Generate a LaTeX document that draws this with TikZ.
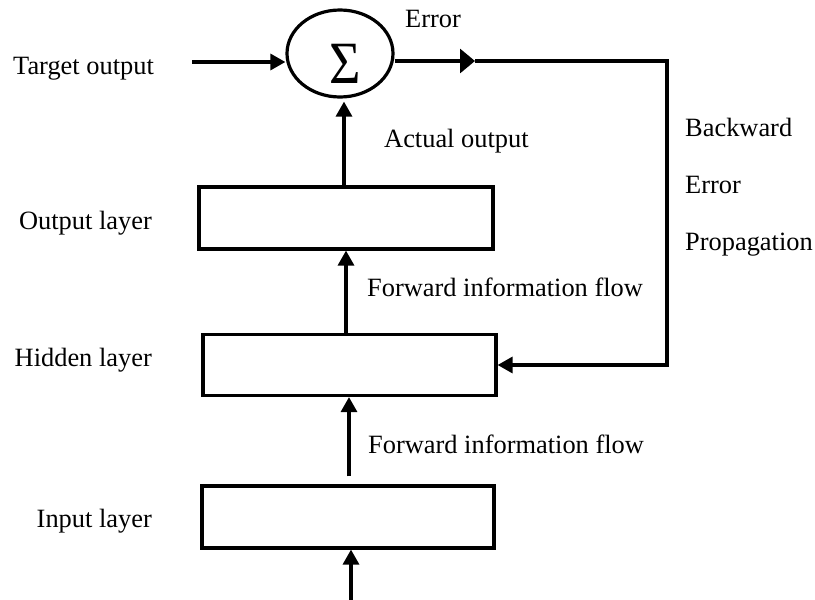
\documentclass[tikz,border=0pt]{standalone}
\usepackage{fontspec}
\setmainfont{Liberation Serif}
\usetikzlibrary{arrows.meta,shapes.geometric,calc}
\tikzset{
  lw/.style={line width=3.2pt},
  arr/.style={lw,-{Triangle[length=15pt,width=16pt]}},
  arrbig/.style={lw,-{Triangle[length=15pt,width=24pt]}},
  layerbox/.style={draw,lw,rectangle,inner sep=0pt},
  lbl/.style={inner sep=0pt,font=\fontsize{26.4}{30}\selectfont}
}
\begin{document}
\begin{tikzpicture}[x=1pt,y=-1pt]
\useasboundingbox (0,0) rectangle (815,600);
% summing junction
\node[draw,lw,ellipse,minimum width=106pt,minimum height=87pt,inner sep=0pt] (sum) at (340,53.5) {};
\node[inner sep=0pt,anchor=base] (sigma) at (345,83) {\fontsize{60}{60}\selectfont\scalebox{0.9}[1]{Σ}};
% layers
\node[layerbox,minimum width=294pt,minimum height=62pt] (output) at (346,218) {};
\node[layerbox,minimum width=293pt,minimum height=61pt] (hidden) at (349.5,365) {};
\node[layerbox,minimum width=292pt,minimum height=62pt] (input) at (348,517) {};
% coordinates
\coordinate (tin) at (192,62);
\coordinate (ehead) at (475,61);
\coordinate (eturn) at (667,61);
\coordinate (bin) at (351,600);
% labels
\node[lbl,anchor=base west] (ttarget) at (13,74) {Target output};
\node[lbl,anchor=base west] (terror) at (405,27) {Error};
\node[lbl,anchor=base west] (tactual) at (384,147) {Actual output};
\node[lbl,anchor=base east] (toutput) at (152,229) {Output layer};
\node[lbl,anchor=base east] (thidden) at (152,366) {Hidden layer};
\node[lbl,anchor=base east] (tinput) at (152,527) {Input layer};
\node[lbl,anchor=base west] (tflow1) at (367,296) {Forward information flow};
\node[lbl,anchor=base west] (tflow2) at (368,453) {Forward information flow};
\node[lbl,anchor=base west] (tback) at (685,136) {Backward};
\node[lbl,anchor=base west] (tberr) at (685,193) {Error};
\node[lbl,anchor=base west] (tprop) at (685,250) {Propagation};
% connectors
\draw[arr] (tin) -- (tin -| sum.west);
\draw[arrbig] (sum.east |- ehead) -- (ehead);
\draw[arr] (ehead) -- (eturn) |- (hidden.east);
\draw[arr,shorten >=3pt] ([xshift=-2pt]output.north) -- ([xshift=-2pt]output.north |- sum.south);
\draw[arr] (output.south |- hidden.north) -- (output.south);
\draw[arr,shorten <=8pt] ([xshift=1pt]input.north) -- ([xshift=1pt]input.north |- hidden.south);
\draw[arr] (bin) -- (bin |- input.south);
\end{tikzpicture}
\end{document}
